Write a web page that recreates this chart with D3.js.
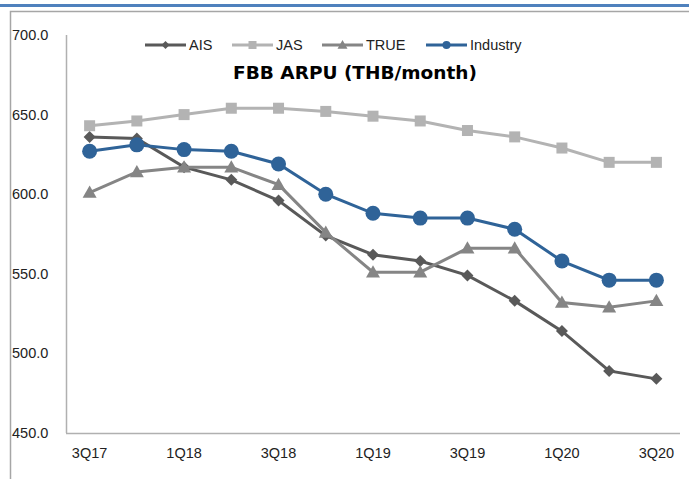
<!DOCTYPE html>
<html>
<head>
<meta charset="utf-8">
<script src="https://cdn.jsdelivr.net/npm/d3@7/dist/d3.min.js"></script>
<style>
  html, body { margin: 0; padding: 0; background: #fff; }
  svg { display: block; font-family: Arial, "Liberation Sans", sans-serif; }
</style>
</head>
<body>
<div id="chart"></div>
<script>
// quarters on the x axis
const quarters = ['3Q17', '4Q17', '1Q18', '2Q18', '3Q18', '4Q18', '1Q19', '2Q19', '3Q19', '4Q19', '1Q20', '2Q20', '3Q20']
const tickLabels = ['3Q17', '1Q18', '3Q18', '1Q19', '3Q19', '1Q20', '3Q20']
const yTicks = [450, 500, 550, 600, 650, 700]

// ARPU, THB/month
const ais = [636, 635, 617, 609, 596, 574, 562, 558, 549, 533, 514, 489, 484]
const jas = [643, 646, 650, 654, 654, 652, 649, 646, 640, 636, 629, 620, 620]
const trueCorp = [601, 614, 617, 617, 606, 576, 551, 551, 566, 566, 532, 529, 533]
const industry = [627, 631, 628, 627, 619, 600, 588, 585, 585, 578, 558, 546, 546]

const series = [
  { name: 'AIS', values: ais, color: '#595959', marker: 'diamond', width: 3 },
  { name: 'JAS', values: jas, color: '#b3b3b3', marker: 'square', width: 3 },
  { name: 'TRUE', values: trueCorp, color: '#858585', marker: 'triangle', width: 3 },
  { name: 'Industry', values: industry, color: '#2f6398', marker: 'circle', width: 3 }
]

const W = 689, H = 479
const plot = { left: 66, right: 680, top: 35, bottom: 433 }

const svg = d3.select('#chart').append('svg')
  .attr('width', W).attr('height', H)

// page frame: blue rule + grey box
svg.append('rect').attr('x', 0).attr('y', 4).attr('width', W).attr('height', 3).attr('fill', '#4f81bd')
svg.append('path')
  .attr('d', `M10.5,${H} V11.5 H${W}`)
  .attr('fill', 'none').attr('stroke', '#a6a6a6').attr('stroke-width', 1.5)

const x = d3.scaleBand().domain(quarters).range([plot.left, plot.right])
const y = d3.scaleLinear().domain([450, 700]).range([plot.bottom, plot.top])
const cx = q => x(q) + x.bandwidth() / 2

// axes lines
svg.append('line')
  .attr('x1', plot.left + 0.5).attr('x2', plot.left + 0.5)
  .attr('y1', plot.top).attr('y2', plot.bottom)
  .attr('stroke', '#b0b0b0').attr('stroke-width', 1.5)
svg.append('line')
  .attr('x1', plot.left).attr('x2', plot.right)
  .attr('y1', plot.bottom + 0.5).attr('y2', plot.bottom + 0.5)
  .attr('stroke', '#b0b0b0').attr('stroke-width', 1.5)

// y tick labels, left aligned against the frame
svg.append('g').selectAll('text').data(yTicks).join('text')
  .attr('x', 12).attr('y', d => y(d))
  .attr('dy', '0.35em')
  .attr('font-size', 14.5).attr('fill', '#222')
  .text(d => d3.format('.1f')(d))

// x tick labels
svg.append('g').selectAll('text').data(tickLabels).join('text')
  .attr('x', d => cx(d)).attr('y', 458)
  .attr('text-anchor', 'middle')
  .attr('font-size', 14.5).attr('fill', '#222')
  .text(d => d)

function drawMarker(g, type, color, px, py, big) {
  if (type === 'circle') {
    g.append('circle').attr('cx', px).attr('cy', py).attr('r', big ? 7.5 : 4).attr('fill', color)
  } else if (type === 'square') {
    const s = big ? 11 : 8
    g.append('rect').attr('x', px - s / 2).attr('y', py - s / 2).attr('width', s).attr('height', s).attr('fill', color)
  } else if (type === 'triangle') {
    const s = big ? 7 : 5
    g.append('path').attr('d', `M${px},${py - s} L${px + s},${py + s * 0.75} L${px - s},${py + s * 0.75}Z`).attr('fill', color)
  } else {
    const s = big ? 6 : 4
    g.append('path').attr('d', `M${px},${py - s} L${px + s},${py} L${px},${py + s} L${px - s},${py}Z`).attr('fill', color)
  }
}

const line = d3.line().x((d, i) => cx(quarters[i])).y(d => y(d))

series.forEach(s => {
  const g = svg.append('g')
  g.append('path').datum(s.values)
    .attr('d', line)
    .attr('fill', 'none').attr('stroke', s.color).attr('stroke-width', s.width)
  s.values.forEach((v, i) => drawMarker(g, s.marker, s.color, cx(quarters[i]), y(v), true))
})

// legend
const legendX = [145, 232, 322, 426]
const leg = svg.append('g')
series.forEach((s, i) => {
  const lx = legendX[i], ly = 45
  leg.append('line').attr('x1', lx).attr('x2', lx + 41).attr('y1', ly).attr('y2', ly)
    .attr('stroke', s.color).attr('stroke-width', 3)
  drawMarker(leg, s.marker, s.color, lx + 20.5, ly, false)
  leg.append('text').attr('x', lx + 44).attr('y', ly).attr('dy', '0.35em')
    .attr('font-size', 14.5).attr('fill', '#222').text(s.name)
})

// title
svg.append('text')
  .attr('x', 355).attr('y', 79)
  .attr('text-anchor', 'middle')
  .attr('font-size', 18.5).attr('font-weight', 'bold')
  .attr('font-family', 'Verdana, "DejaVu Sans", sans-serif')
  .attr('fill', '#000')
  .text('FBB ARPU (THB/month)')
</script>
</body>
</html>
